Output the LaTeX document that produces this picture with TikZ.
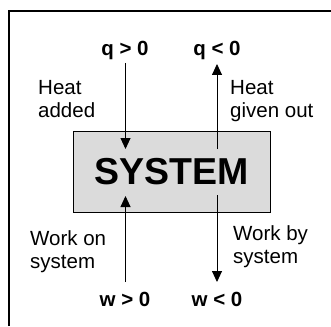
\documentclass[tikz,border=0pt]{standalone}
\usepackage{fontspec}
\setmainfont{Liberation Sans}
\usetikzlibrary{arrows.meta}
\begin{document}
\begin{tikzpicture}[x=1pt,y=-1pt,
  lbl/.style={font=\fontsize{20.5}{23.5}\selectfont, align=left, inner sep=0pt},
  sgn/.style={font=\fontsize{20.5}{23}\bfseries\selectfont, inner sep=0pt},
  flow/.style={line width=0.9pt, -{Triangle[length=11pt,width=10pt]}}]
\useasboundingbox (0,0) rectangle (331,326);
\draw[line width=1.8pt] (9,326) -- (9,11) -- (331,11);
\node[draw, line width=1pt, fill=black!14, minimum width=197pt, minimum height=81pt, inner sep=0pt,
  font=\fontsize{37.5}{40}\bfseries\selectfont] (sys) at (171.5,171.5) {SYSTEM};
\node[sgn] (qp) at (125,50.5) {q > 0};
\node[sgn] (qn) at (217,50.5) {q < 0};
\node[sgn] (wp) at (125,299) {w > 0};
\node[sgn] (wn) at (217,299) {w < 0};
\node[lbl, anchor=west] (ha) at (38,99) {Heat\\added};
\node[lbl, anchor=west] (hg) at (230,101) {Heat\\given out};
\node[lbl, anchor=west] (wo) at (30,251.5) {Work on\\system};
\node[lbl, anchor=west] (wb) at (233,246.5) {Work by\\system};
\coordinate (a1s) at (125.5,63);
\coordinate (a1e) at (125.5,149);
\coordinate (a2s) at (217,149);
\coordinate (a2e) at (217,64);
\coordinate (a3s) at (125.5,282);
\coordinate (a3e) at (125.5,196);
\coordinate (a4s) at (217,195);
\coordinate (a4e) at (217,282);
\draw[flow] (a1s) -- (a1e);
\draw[flow] (a2s) -- (a2e);
\draw[flow] (a3s) -- (a3e);
\draw[flow] (a4s) -- (a4e);
\end{tikzpicture}
\end{document}
